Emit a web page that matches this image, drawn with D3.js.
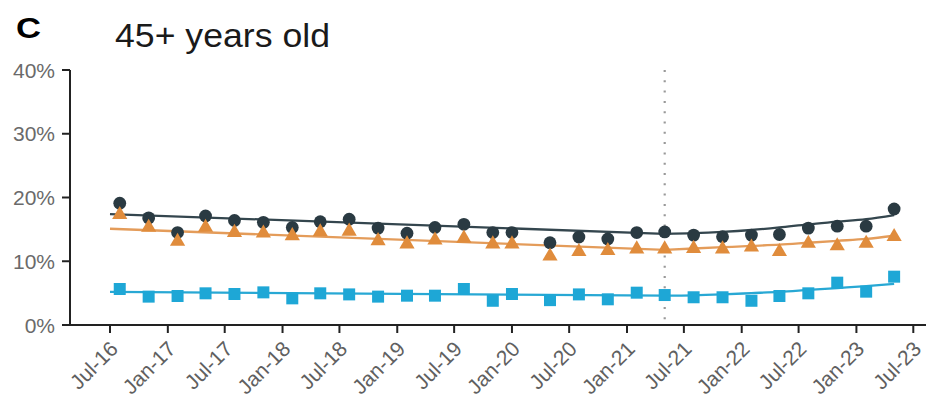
<!DOCTYPE html>
<html><head><meta charset="utf-8">
<script src="https://cdn.jsdelivr.net/npm/d3@7"></script>
<style>
html,body{margin:0;padding:0;background:#fff;}
svg{display:block;font-family:"Liberation Sans",Arial,sans-serif;}
</style></head>
<body><svg id="chart" width="926" height="401"></svg>
<script>
// ---- data ----
const panelLetter = "C";
const panelTitle = "45+ years old";
const pointDates = ["2016-08-01","2016-11-01","2017-02-01","2017-05-01","2017-08-01","2017-11-01","2018-02-01","2018-05-01","2018-08-01","2018-11-01","2019-02-01","2019-05-01","2019-08-01","2019-11-01","2020-01-01","2020-05-01","2020-08-01","2020-11-01","2021-02-01","2021-05-01","2021-08-01","2021-11-01","2022-02-01","2022-05-01","2022-08-01","2022-11-01","2023-02-01","2023-05-01"];
const darkValues   = [19.1,16.8,14.5,17.1,16.4,16.1,15.3,16.2,16.6,15.2,14.4,15.3,15.8,14.5,14.5,12.9,13.8,13.5,14.5,14.6,14.1,13.85,14.1,14.2,15.2,15.5,15.5,18.2];
const orangeValues = [17.3,15.3,13.1,15.3,14.5,14.4,14.0,14.6,14.7,13.2,12.7,13.3,13.6,12.7,12.7,10.8,11.5,11.65,11.9,11.9,12.0,11.9,12.2,11.5,12.8,12.4,12.8,13.85];
const blueValues   = [5.65,4.45,4.55,4.97,4.86,5.12,4.18,4.97,4.8,4.45,4.6,4.6,5.65,3.8,4.86,3.9,4.8,4.03,5.07,4.7,4.35,4.35,3.8,4.55,4.97,6.64,5.23,7.58];
// fitted segmented trends
const trendPreDates  = ["2016-07-01","2021-05-01"];
const darkPre   = [17.4,14.3];
const orangePre = [15.1,11.8];
const bluePre   = [5.2,4.6];
const trendPostDates = ["2021-05-01","2021-08-01","2021-11-01","2022-02-01","2022-05-01","2022-08-01","2022-11-01","2023-02-01","2023-05-01"];
const darkPost   = [14.3,14.4,14.6,14.9,15.3,15.8,16.2,16.6,17.25];
const orangePost = [11.8,12.0,12.2,12.4,12.6,12.9,13.2,13.5,14.0];
const bluePost   = [4.6,4.65,4.8,5.0,5.2,5.5,5.8,6.1,6.45];
const breakDate = "2021-05-01";
const xTickLabels = ["Jul-16","Jan-17","Jul-17","Jan-18","Jul-18","Jan-19","Jul-19","Jan-20","Jul-20","Jan-21","Jul-21","Jan-22","Jul-22","Jan-23","Jul-23"];
const yTicks = [0,10,20,30,40];

// ---- drawing ----
const svg = d3.select("#chart");
const W = 926;
const parse = d3.timeParse("%Y-%m-%d");
const parseTick = d3.timeParse("%b-%y");
const tickDates = xTickLabels.map(parseTick);

const x = d3.scaleTime().domain([tickDates[0], tickDates[tickDates.length-1]]).range([110, 913.3]);
const y = d3.scaleLinear().domain([0,40]).range([325,70]);
const axisX0 = 70;

const colDark = "#2a3a42", colOrange = "#e08c3c", colBlue = "#1ea7d6";
const lineDark = "#34464e", lineOrange = "#e49c5a", lineBlue = "#28a8d4";

// titles
svg.append("text").attr("x",16).attr("y",38).attr("font-size",29).attr("font-weight","bold")
  .attr("fill","#000").attr("textLength",25).attr("lengthAdjust","spacingAndGlyphs").text(panelLetter);
svg.append("text").attr("x",115).attr("y",47).attr("font-size",33)
  .attr("fill","#1a1a1a").attr("textLength",215).attr("lengthAdjust","spacingAndGlyphs").text(panelTitle);

// y axis
const gy = svg.append("g");
gy.append("line").attr("x1",axisX0).attr("x2",axisX0).attr("y1",y(40)).attr("y2",y(0))
  .attr("stroke","#222").attr("stroke-width",2);
yTicks.forEach(v=>{
  gy.append("line").attr("x1",axisX0-8).attr("x2",axisX0).attr("y1",y(v)).attr("y2",y(v))
    .attr("stroke","#222").attr("stroke-width",2);
  gy.append("text").attr("x",55).attr("y",y(v)).attr("dy","0.36em").attr("text-anchor","end")
    .attr("font-size",21).attr("fill","#6a6a6a")
    .text(v+"%");
});

// x axis
const gx = svg.append("g");
gx.append("line").attr("x1",axisX0-1).attr("x2",W).attr("y1",y(0)).attr("y2",y(0))
  .attr("stroke","#222").attr("stroke-width",2);
tickDates.forEach((d,i)=>{
  const tx = x(d);
  gx.append("line").attr("x1",tx).attr("x2",tx).attr("y1",y(0)).attr("y2",y(0)+8)
    .attr("stroke","#222").attr("stroke-width",2);
  gx.append("text").attr("transform",`translate(${tx+4},${y(0)+20}) rotate(-45)`)
    .attr("text-anchor","end").attr("dy","0.35em").attr("font-size",21).attr("fill","#606060")
    .text(xTickLabels[i]);
});

// break line
svg.append("line").attr("x1",x(parse(breakDate))).attr("x2",x(parse(breakDate)))
  .attr("y1",y(40)).attr("y2",y(0)).attr("stroke","#999").attr("stroke-width",2.2)
  .attr("stroke-dasharray","2,8.3");

const line = d3.line().x(d=>x(d[0])).y(d=>y(d[1])).curve(d3.curveMonotoneX);
function trend(dates, vals, col){
  svg.append("path").datum(dates.map((d,i)=>[parse(d), vals[i]]))
    .attr("d", line).attr("fill","none").attr("stroke",col).attr("stroke-width",2.3);
}
trend(trendPreDates, bluePre, lineBlue);
trend(trendPostDates, bluePost, lineBlue);
trend(trendPreDates, orangePre, lineOrange);
trend(trendPostDates, orangePost, lineOrange);
trend(trendPreDates, darkPre, lineDark);
trend(trendPostDates, darkPost, lineDark);

const pts = pointDates.map(parse);
// squares
svg.append("g").selectAll("path").data(blueValues).join("path")
  .attr("d", d3.symbol(d3.symbolSquare, 144)())
  .attr("transform",(d,i)=>`translate(${x(pts[i])},${y(d)})`).attr("fill",colBlue);
// circles
svg.append("g").selectAll("circle").data(darkValues).join("circle")
  .attr("cx",(d,i)=>x(pts[i])).attr("cy",d=>y(d)).attr("r",6.4).attr("fill",colDark);
// triangles
svg.append("g").selectAll("path").data(orangeValues).join("path")
  .attr("d", d3.symbol(d3.symbolTriangle, 100)())
  .attr("transform",(d,i)=>`translate(${x(pts[i])},${y(d)})`).attr("fill",colOrange);
</script>
</body></html>
